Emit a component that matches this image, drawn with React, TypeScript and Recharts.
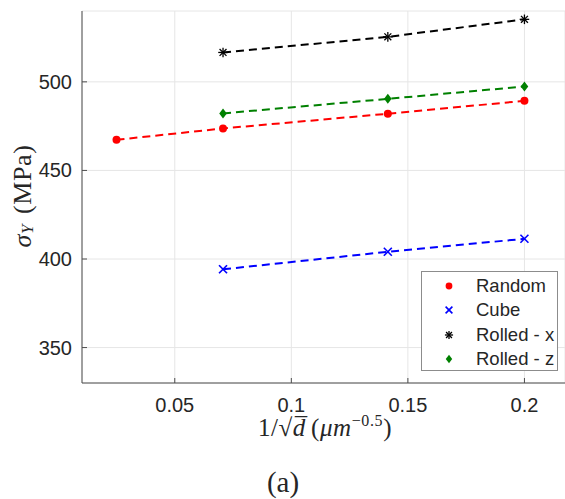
import React from 'react'
import { ScatterChart, Scatter, XAxis, YAxis, CartesianGrid, Legend } from 'recharts'

// 1/sqrt(d) values for each grain size
const xRandom = [0.025, 0.0707, 0.1414, 0.2]
const xTextured = [0.0707, 0.1414, 0.2]

// yield stress (MPa)
const randomVals = [467.3, 473.7, 482.0, 489.3]
const cubeVals = [394.2, 404.1, 411.4]
const rolledXVals = [516.6, 525.4, 535.3]
const rolledZVals = [482.2, 490.4, 497.4]

const xTicks = [0.05, 0.1, 0.15, 0.2]
const yTicks = [350, 400, 450, 500]

const toPoints = (xs: number[], ys: number[]) => xs.map((x, i) => ({ x, y: ys[i] }))

const sans = '"Liberation Sans", Arial, Helvetica, sans-serif'
const serif = '"Liberation Serif", "Times New Roman", serif'
const axisColor = '#4d4d4d'
const textColor = '#262626'

type Marker = 'dot' | 'x' | 'star' | 'diamond'

function drawMarker(kind: Marker, cx: number, cy: number, color: string, s = 1) {
  if (kind === 'dot') return <circle cx={cx} cy={cy} r={4 * s} fill={color} />
  if (kind === 'x') {
    const d = 4 * s
    return (
      <g stroke={color} strokeWidth={1.6}>
        <line x1={cx - d} y1={cy - d} x2={cx + d} y2={cy + d} />
        <line x1={cx - d} y1={cy + d} x2={cx + d} y2={cy - d} />
      </g>
    )
  }
  if (kind === 'star') {
    const d = 4.8 * s
    const k = d * 0.72
    return (
      <g stroke={color} strokeWidth={1.3}>
        <line x1={cx - d} y1={cy} x2={cx + d} y2={cy} />
        <line x1={cx} y1={cy - d} x2={cx} y2={cy + d} />
        <line x1={cx - k} y1={cy - k} x2={cx + k} y2={cy + k} />
        <line x1={cx - k} y1={cy + k} x2={cx + k} y2={cy - k} />
      </g>
    )
  }
  const h = 5 * s
  const w = 3.8 * s
  return (
    <polygon
      points={`${cx},${cy - h} ${cx + w},${cy} ${cx},${cy + h} ${cx - w},${cy}`}
      fill={color}
    />
  )
}

const series = [
  { name: 'Random', color: '#ff0000', marker: 'dot' as Marker, data: toPoints(xRandom, randomVals) },
  { name: 'Cube', color: '#0000ff', marker: 'x' as Marker, data: toPoints(xTextured, cubeVals) },
  { name: 'Rolled - x', color: '#000000', marker: 'star' as Marker, data: toPoints(xTextured, rolledXVals) },
  { name: 'Rolled - z', color: '#008000', marker: 'diamond' as Marker, data: toPoints(xTextured, rolledZVals) },
]

const XTick = (props: any) => {
  const { x, y, payload } = props
  return (
    <g>
      <line x1={x} x2={x} y1={y} y2={y - 5} stroke={axisColor} />
      <text x={x} y={y + 22} textAnchor="middle" dominantBaseline="central" fontSize={20} fontFamily={sans} fill={textColor}>
        {String(payload.value)}
      </text>
    </g>
  )
}

const YTick = (props: any) => {
  const { x, y, payload } = props
  return (
    <g>
      <line x1={x} x2={x + 5} y1={y} y2={y} stroke={axisColor} />
      <text x={x - 10} y={y} textAnchor="end" dominantBaseline="central" fontSize={20} fontFamily={sans} fill={textColor}>
        {String(payload.value)}
      </text>
    </g>
  )
}

const YLabel = () => (
  <text
    x={22}
    y={196}
    transform="rotate(-90, 22, 196)"
    textAnchor="middle"
    dominantBaseline="central"
    fontFamily={serif}
    fontSize={26}
    letterSpacing={0.6}
    fill={textColor}
  >
    <tspan fontStyle="italic">σ</tspan>
    <tspan fontStyle="italic" fontSize={17} dy={5}>Y</tspan>
    <tspan dy={-5} dx={10}>(MPa)</tspan>
  </text>
)

const XLabel = () => (
  <g fontFamily={serif} fill={textColor}>
    <text x={325} y={436} textAnchor="middle" fontSize={25} letterSpacing={0.6}>
      1/√<tspan fontStyle="italic">d̅</tspan>
      <tspan dx={5}>(</tspan>
      <tspan fontStyle="italic">μm</tspan>
      <tspan fontSize={16} dy={-10}>−0.5</tspan>
      <tspan dy={10}>)</tspan>
    </text>
    <text x={283} y={492} textAnchor="middle" fontSize={29}>
      (a)
    </text>
  </g>
)

const LegendBox = () => (
  <div
    style={{
      width: 137,
      height: 100,
      border: '1px solid #8c8c8c',
      background: '#fff',
      boxSizing: 'border-box',
      paddingTop: 2,
    }}
  >
    {series.map((s) => (
      <div key={s.name} style={{ display: 'flex', alignItems: 'center', height: 24.3 }}>
        <svg width={54} height={20}>
          {drawMarker(s.marker, 27, 10, s.color, 0.85)}
        </svg>
        <span style={{ fontFamily: sans, fontSize: 18.5, color: textColor }}>{s.name}</span>
      </div>
    ))}
  </div>
)

export default function App() {
  return (
    <div style={{ position: 'absolute', left: 0, top: 0, background: '#fff' }}>
      <ScatterChart width={565} height={499} margin={{ top: 11, right: 0, bottom: 0, left: 0 }}>
        <CartesianGrid stroke="#e6e6e6" />
        <XAxis
          type="number"
          dataKey="x"
          domain={[0.0102, 0.2174]}
          allowDataOverflow
          ticks={xTicks}
          height={116}
          tickSize={0}
          tickMargin={0}
          tick={<XTick />}
          stroke={axisColor}
          label={<XLabel />}
        />
        <YAxis
          type="number"
          dataKey="y"
          domain={[330, 540]}
          allowDataOverflow
          ticks={yTicks}
          width={82}
          tickSize={0}
          tickMargin={0}
          tick={<YTick />}
          stroke={axisColor}
          label={<YLabel />}
        />
        <Legend
          layout="vertical"
          align="center"
          verticalAlign="middle"
          content={<LegendBox />}
          wrapperStyle={{ position: 'absolute', left: 421, top: 271, width: 137 }}
        />
        {series.map((s) => (
          <Scatter
            key={s.name}
            name={s.name}
            data={s.data}
            fill={s.color}
            line={{ stroke: s.color, strokeWidth: 2, strokeDasharray: '8 5' }}
            lineType="joint"
            isAnimationActive={false}
            shape={(p: any) => drawMarker(s.marker, p.cx, p.cy, s.color)}
          />
        ))}
      </ScatterChart>
    </div>
  )
}
